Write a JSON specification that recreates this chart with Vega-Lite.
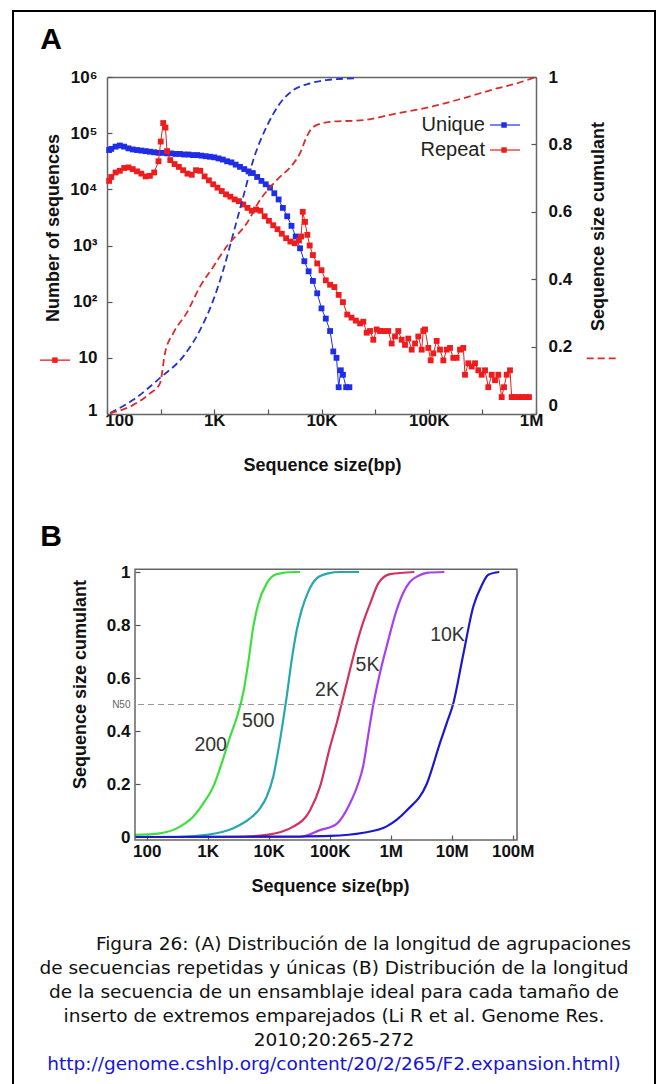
{
  "$schema": "https://vega.github.io/schema/vega-lite/v6.json",
  "width": 642,
  "height": 1093,
  "padding": {"left": 13, "top": 11, "right": 5, "bottom": -20},
  "autosize": {"type": "none"},
  "background": "white",
  "config": {
    "view": {"stroke": "#000", "strokeWidth": 2},
    "axis": {"domain": false, "domainColor": "#666", "domainWidth": 1.5, "grid": false, "tickColor": "#555", "tickWidth": 1.2, "tickSize": -5, "labelFont": "Liberation Sans", "labelFontWeight": "bold", "labelFontSize": 17, "labelColor": "#111", "titleFont": "Liberation Sans", "titleFontWeight": "bold", "titleFontSize": 18, "titleColor": "#111", "labelOverlap": false, "labelFlush": false},
    "text": {"font": "Liberation Sans"}
  },
  "title": {
    "text": ["\u200b\u00a0\u00a0\u00a0\u00a0\u00a0\u00a0\u00a0\u00a0\u00a0\u00a0Figura 26: (A) Distribución de la longitud de agrupaciones", "de secuencias repetidas y únicas (B) Distribución de la longitud", "de la secuencia de un ensamblaje ideal para cada tamaño de", "inserto de extremos emparejados (Li R et al. Genome Res.", "2010;20:265-272"],
    "subtitle": "http://genome.cshlp.org/content/20/2/265/F2.expansion.html)",
    "orient": "bottom", "anchor": "middle", "frame": "group", "offset": -169,
    "font": "DejaVu Sans", "fontSize": 18.5, "fontWeight": "normal", "color": "#111", "lineHeight": 24,
    "subtitleFont": "DejaVu Sans", "subtitleFontSize": 18.5, "subtitleColor": "#1515d6", "subtitlePadding": 5, "subtitleLineHeight": 24
  },
  "datasets": {
    "unique": [
      {"bp":104.7,"n":50120},{"bp":109.6,"n":52480},{"bp":120.2,"n":57540},{"bp":131.8,"n":60260},{"bp":144.5,"n":57540},{"bp":158.5,"n":53700},{"bp":173.8,"n":51290},{"bp":190.5,"n":50120},{"bp":208.9,"n":48980},{"bp":229.1,"n":47860},{"bp":251.2,"n":46770},{"bp":275.4,"n":45710},{"bp":302.0,"n":44670},{"bp":331.1,"n":44670},{"bp":363.1,"n":43650},{"bp":398.1,"n":43650},{"bp":436.5,"n":42660},{"bp":478.6,"n":42660},{"bp":524.8,"n":41690},{"bp":575.4,"n":41690},{"bp":631.0,"n":40740},{"bp":691.8,"n":40740},{"bp":758.6,"n":39810},{"bp":831.8,"n":38900},{"bp":912.0,"n":38020},{"bp":1000,"n":37150},{"bp":1096,"n":35480},{"bp":1202,"n":33880},{"bp":1318,"n":31620},{"bp":1445,"n":30200},{"bp":1585,"n":27540},{"bp":1738,"n":25120},{"bp":1905,"n":22910},{"bp":2089,"n":20890},{"bp":2291,"n":19500},{"bp":2512,"n":16600},{"bp":2754,"n":14130},{"bp":3020,"n":12300},{"bp":3311,"n":10720},{"bp":3631,"n":8511},{"bp":3981,"n":6607},{"bp":4365,"n":4677},{"bp":4786,"n":3311},{"bp":5248,"n":2239},{"bp":5754,"n":1445},{"bp":6310,"n":891},{"bp":6918,"n":525},{"bp":7586,"n":347},{"bp":8318,"n":234},{"bp":9120,"n":141},{"bp":10000,"n":76},{"bp":10965,"n":50},{"bp":12023,"n":30},{"bp":12882,"n":13},{"bp":13804,"n":10},{"bp":14454,"n":3},{"bp":15136,"n":6},{"bp":15849,"n":5},{"bp":16982,"n":3},{"bp":18197,"n":3}
    ],
    "repeat": [
      {"bp":104.7,"n":14125},{"bp":109.6,"n":16600},{"bp":120.2,"n":19950},{"bp":131.8,"n":21380},{"bp":144.5,"n":23990},{"bp":158.5,"n":24550},{"bp":173.8,"n":22910},{"bp":190.5,"n":20890},{"bp":208.9,"n":19050},{"bp":229.1,"n":16980},{"bp":251.2,"n":17380},{"bp":275.4,"n":19950},{"bp":302.0,"n":31620},{"bp":317.0,"n":70800},{"bp":334.2,"n":151400},{"bp":350.8,"n":125900},{"bp":363.1,"n":47860},{"bp":389.0,"n":33110},{"bp":426.6,"n":28180},{"bp":467.7,"n":25120},{"bp":512.9,"n":21880},{"bp":562.3,"n":19050},{"bp":616.6,"n":18200},{"bp":676.1,"n":21880},{"bp":741.3,"n":21380},{"bp":812.8,"n":16980},{"bp":891.3,"n":14450},{"bp":977.2,"n":12300},{"bp":1071.5,"n":10720},{"bp":1174.9,"n":9333},{"bp":1288.2,"n":8128},{"bp":1412.5,"n":7413},{"bp":1548.8,"n":6607},{"bp":1698.2,"n":6166},{"bp":1862.1,"n":5370},{"bp":2041.7,"n":4677},{"bp":2238.7,"n":4169},{"bp":2454.7,"n":4365},{"bp":2691.5,"n":4169},{"bp":2951.2,"n":3311},{"bp":3235.9,"n":2754},{"bp":3548.1,"n":2291},{"bp":3890.5,"n":1950},{"bp":4265.8,"n":1622},{"bp":4677.4,"n":1349},{"bp":5128.6,"n":1175},{"bp":5623.4,"n":1096},{"bp":6166.0,"n":1230},{"bp":6456.5,"n":1445},{"bp":6683.4,"n":3981},{"bp":7014.5,"n":2630},{"bp":7379.0,"n":1549},{"bp":7762.5,"n":1000},{"bp":8317.6,"n":676},{"bp":9120.1,"n":479},{"bp":10000,"n":363},{"bp":10965,"n":240},{"bp":12023,"n":200},{"bp":13183,"n":182},{"bp":14454,"n":132},{"bp":15849,"n":98},{"bp":17378,"n":59},{"bp":19055,"n":52},{"bp":20893,"n":46},{"bp":22909,"n":41},
      {"bp":24547,"n":44},{"bp":26390,"n":28},{"bp":28340,"n":30},{"bp":30410,"n":21},{"bp":32700,"n":32},{"bp":35120,"n":30},{"bp":37700,"n":30},{"bp":41960,"n":30},{"bp":45120,"n":18},{"bp":48450,"n":24},{"bp":52020,"n":30},{"bp":55950,"n":21},{"bp":60050,"n":17},{"bp":64470,"n":22},{"bp":69340,"n":14},{"bp":74440,"n":18},{"bp":79930,"n":24},{"bp":85970,"n":14},{"bp":88970,"n":30},{"bp":92260,"n":32},{"bp":99040,"n":15},{"bp":104270,"n":9},{"bp":110250,"n":12},{"bp":118630,"n":20},{"bp":127330,"n":14},{"bp":136710,"n":9},{"bp":147080,"n":14},{"bp":157830,"n":15},{"bp":169400,"n":10},{"bp":182240,"n":10},{"bp":195600,"n":14},{"bp":209990,"n":15},{"bp":217770,"n":5},{"bp":233770,"n":8},{"bp":251500,"n":7},{"bp":269960,"n":8},{"bp":289730,"n":6},{"bp":311600,"n":5},{"bp":334580,"n":6},{"bp":359200,"n":3},{"bp":386360,"n":5},{"bp":414720,"n":4},{"bp":445210,"n":5},{"bp":478860,"n":2},{"bp":503080,"n":3},{"bp":533240,"n":5},{"bp":572220,"n":6},{"bp":593500,"n":2},{"bp":637180,"n":2},{"bp":686590,"n":2},{"bp":740440,"n":2},{"bp":798500,"n":2},{"bp":860460,"n":2}
    ],
    "cumUnique": [
      {"bp":106.7,"c":0.003},{"bp":175.8,"c":0.042},{"bp":311.9,"c":0.107},{"bp":514.5,"c":0.171},{"bp":736.6,"c":0.249},{"bp":979.5,"c":0.338},{"bp":1213,"c":0.427},{"bp":1507,"c":0.536},{"bp":1866,"c":0.645},{"bp":2313,"c":0.754},{"bp":3084,"c":0.853},{"bp":4102,"c":0.922},{"bp":5458,"c":0.961},{"bp":7812,"c":0.981},{"bp":11190,"c":0.991},{"bp":20510,"c":0.996}
    ],
    "cumRepeat": [
      {"bp":106.7,"c":0.002},{"bp":175.8,"c":0.027},{"bp":251.6,"c":0.061},{"bp":311.9,"c":0.091},{"bp":347.5,"c":0.181},{"bp":415.3,"c":0.24},{"bp":553.6,"c":0.30},{"bp":736.6,"c":0.378},{"bp":979.5,"c":0.437},{"bp":1306,"c":0.497},{"bp":2009,"c":0.566},{"bp":2672,"c":0.635},{"bp":3823,"c":0.694},{"bp":5458,"c":0.743},{"bp":6310,"c":0.774},{"bp":7278,"c":0.823},{"bp":8395,"c":0.852},{"bp":12000,"c":0.867},{"bp":24550,"c":0.872},{"bp":50230,"c":0.892},{"bp":102800,"c":0.911},{"bp":209900,"c":0.937},{"bp":430300,"c":0.966},{"bp":661000,"c":0.981},{"bp":1000000,"c":1.0}
    ],
    "insertCurves": [
      {"insert":"200","bp":64.3,"c":0.008},{"insert":"200","bp":165.2,"c":0.014},{"insert":"200","bp":351.6,"c":0.039},{"insert":"200","bp":580.8,"c":0.077},{"insert":"200","bp":847.2,"c":0.127},{"insert":"200","bp":1236,"c":0.19},{"insert":"200","bp":1698,"c":0.278},{"insert":"200","bp":2323,"c":0.378},{"insert":"200","bp":2985,"c":0.45},{"insert":"200","bp":3837,"c":0.545},{"insert":"200","bp":4634,"c":0.66},{"insert":"200","bp":5598,"c":0.794},{"insert":"200","bp":6761,"c":0.88},{"insert":"200","bp":9268,"c":0.957},{"insert":"200","bp":13520,"c":0.992},{"insert":"200","bp":25290,"c":1.0},{"insert":"200","bp":32580,"c":1.0},
      {"insert":"500","bp":64.3,"c":0.0},{"insert":"500","bp":310.5,"c":0.0},{"insert":"500","bp":963.8,"c":0.008},{"insert":"500","bp":2630,"c":0.033},{"insert":"500","bp":4932,"c":0.07},{"insert":"500","bp":7194,"c":0.108},{"insert":"500","bp":9268,"c":0.152},{"insert":"500","bp":11890,"c":0.228},{"insert":"500","bp":14360,"c":0.328},{"insert":"500","bp":16980,"c":0.43},{"insert":"500","bp":19720,"c":0.53},{"insert":"500","bp":23820,"c":0.668},{"insert":"500","bp":28770,"c":0.78},{"insert":"500","bp":34750,"c":0.857},{"insert":"500","bp":44570,"c":0.926},{"insert":"500","bp":61240,"c":0.976},{"insert":"500","bp":94840,"c":0.995},{"insert":"500","bp":147600,"c":1.0},{"insert":"500","bp":302000,"c":1.0},
      {"insert":"2K","bp":64.3,"c":0.0},{"insert":"2K","bp":2630,"c":0.0},{"insert":"2K","bp":9268,"c":0.008},{"insert":"2K","bp":25290,"c":0.039},{"insert":"2K","bp":47530,"c":0.10},{"insert":"2K","bp":69340,"c":0.19},{"insert":"2K","bp":101200,"c":0.34},{"insert":"2K","bp":130300,"c":0.43},{"insert":"2K","bp":157400,"c":0.505},{"insert":"2K","bp":201800,"c":0.605},{"insert":"2K","bp":260000,"c":0.706},{"insert":"2K","bp":335000,"c":0.794},{"insert":"2K","bp":458100,"c":0.88},{"insert":"2K","bp":626600,"c":0.957},{"insert":"2K","bp":975000,"c":0.992},{"insert":"2K","bp":2438000,"c":1.0},
      {"insert":"5K","bp":64.3,"c":0.0},{"insert":"5K","bp":32580,"c":0.0},{"insert":"5K","bp":69340,"c":0.026},{"insert":"5K","bp":130300,"c":0.05},{"insert":"5K","bp":215300,"c":0.127},{"insert":"5K","bp":291100,"c":0.2},{"insert":"5K","bp":355600,"c":0.27},{"insert":"5K","bp":424600,"c":0.38},{"insert":"5K","bp":518800,"c":0.5},{"insert":"5K","bp":668300,"c":0.62},{"insert":"5K","bp":859600,"c":0.72},{"insert":"5K","bp":1253000,"c":0.857},{"insert":"5K","bp":1592000,"c":0.92},{"insert":"5K","bp":2070000,"c":0.963},{"insert":"5K","bp":2805000,"c":0.985},{"insert":"5K","bp":3890000,"c":0.997},{"insert":"5K","bp":7568000,"c":1.0},
      {"insert":"10K","bp":64.3,"c":0.0},{"insert":"10K","bp":32580,"c":0.002},{"insert":"10K","bp":101200,"c":0.004},{"insert":"10K","bp":355600,"c":0.016},{"insert":"10K","bp":859600,"c":0.04},{"insert":"10K","bp":1828000,"c":0.10},{"insert":"10K","bp":3890000,"c":0.20},{"insert":"10K","bp":6427000,"c":0.355},{"insert":"10K","bp":8279000,"c":0.43},{"insert":"10K","bp":10500000,"c":0.5},{"insert":"10K","bp":15490000,"c":0.69},{"insert":"10K","bp":22590000,"c":0.87},{"insert":"10K","bp":31050000,"c":0.95},{"insert":"10K","bp":39810000,"c":0.99},{"insert":"10K","bp":60260000,"c":1.0}
    ],
    "insertLabels": [
      {"label":"200","bp":1119,"c":0.347},{"label":"500","bp":6761,"c":0.439},{"label":"2K","bp":90360,"c":0.555},{"label":"5K","bp":416900,"c":0.649},{"label":"10K","bp":8531000,"c":0.762}
    ]
  },
  "layer": [
    {
      "layer": [
        {
          "data": {"name": "unique"},
          "mark": {"type": "line", "color": "#1f2ee6", "strokeWidth": 1, "point": {"shape": "square", "size": 34, "filled": true, "color": "#1f2ee6", "opacity": 1}},
          "encoding": {
            "x": {"field": "bp", "type": "quantitative", "scale": {"type": "log", "domain": [100, 1000000], "range": [94, 523], "nice": false},
              "axis": {"orient": "bottom", "offset": -690, "domain": true, "values": [100, 316.23, 1000, 3162.3, 10000, 31623, 100000, 316228, 1000000], "labelExpr": "datum.value == 100 ? '100' : datum.value == 1000 ? '1K' : datum.value == 10000 ? '10K' : datum.value == 100000 ? '100K' : datum.value == 1000000 ? '1M' : ''", "labelPadding": 3, "labelOffset": {"condition": [{"test": "datum.value == 100", "value": 12}, {"test": "datum.value == 1000000", "value": -5}], "value": 0}, "title": "Sequence size(bp)", "titleX": 309, "titleY": 51, "titleBaseline": "middle"}},
            "y": {"field": "n", "type": "quantitative", "scale": {"type": "log", "domain": [1, 1000000], "range": [403, 66], "nice": false},
              "axis": {"orient": "left", "offset": -94, "domain": true, "values": [1, 10, 100, 1000, 10000, 100000, 1000000], "labelExpr": "datum.value >= 1000000 ? '10⁶' : datum.value >= 100000 ? '10⁵' : datum.value >= 10000 ? '10⁴' : datum.value >= 1000 ? '10³' : datum.value >= 100 ? '10²' : datum.value >= 10 ? '10' : '1'", "labelPadding": 15, "labelOffset": {"condition": {"test": "datum.value == 1", "value": -4}, "value": 0}, "title": "Number of sequences", "titleX": -54, "titleY": 216.5, "titleBaseline": "middle", "titleAngle": 270}}
          }
        },
        {
          "data": {"name": "repeat"},
          "mark": {"type": "line", "color": "#ee1c1c", "strokeWidth": 1, "point": {"shape": "square", "size": 34, "filled": true, "color": "#ee1c1c", "opacity": 1}},
          "encoding": {
            "x": {"field": "bp", "type": "quantitative"},
            "y": {"field": "n", "type": "quantitative"}
          }
        },
        {
          "data": {"values": [{"label": "Unique", "n": 139700}, {"label": "Repeat", "n": 50120}]},
          "mark": {"type": "text", "align": "right", "baseline": "middle", "fontSize": 20, "color": "#222"},
          "encoding": {
            "x": {"datum": 334600, "type": "quantitative"},
            "y": {"field": "n", "type": "quantitative"},
            "text": {"field": "label"}
          }
        },
        {
          "data": {"values": [{"label": "Unique", "n": 139700}, {"label": "Repeat", "n": 50120}]},
          "mark": {"type": "rule", "strokeWidth": 1.2},
          "encoding": {
            "x": {"datum": 372400, "type": "quantitative"},
            "x2": {"datum": 709600},
            "y": {"field": "n", "type": "quantitative"},
            "color": {"field": "label", "type": "nominal", "scale": {"domain": ["Unique", "Repeat"], "range": ["#1f2ee6", "#ee1c1c"]}, "legend": null}
          }
        },
        {
          "data": {"values": [{"label": "Unique", "n": 139700}, {"label": "Repeat", "n": 50120}]},
          "mark": {"type": "point", "shape": "square", "filled": true, "size": 30, "opacity": 1},
          "encoding": {
            "x": {"datum": 503500, "type": "quantitative"},
            "y": {"field": "n", "type": "quantitative"},
            "color": {"field": "label", "type": "nominal", "legend": null}
          }
        },
        {
          "data": {"values": [{"n": 9.1}]},
          "mark": {"type": "rule", "strokeWidth": 1.3, "color": "#ee1c1c"},
          "encoding": {
            "x": {"datum": 23.7, "type": "quantitative"},
            "x2": {"datum": 45.2},
            "y": {"field": "n", "type": "quantitative"}
          }
        },
        {
          "data": {"values": [{"n": 9.1}]},
          "mark": {"type": "point", "shape": "square", "filled": true, "size": 30, "opacity": 1, "color": "#ee1c1c"},
          "encoding": {
            "x": {"datum": 32.7, "type": "quantitative"},
            "y": {"field": "n", "type": "quantitative"}
          }
        },
        {
          "data": {"values": [{"label": "A", "n": 4550000}]},
          "mark": {"type": "text", "align": "center", "baseline": "middle", "fontSize": 30, "fontWeight": "bold", "color": "#000"},
          "encoding": {
            "x": {"datum": 30.1, "type": "quantitative"},
            "y": {"field": "n", "type": "quantitative"},
            "text": {"field": "label"}
          }
        }
      ]
    },
    {
      "layer": [
        {
          "data": {"name": "cumUnique"},
          "mark": {"type": "line", "color": "#2433d0", "strokeWidth": 1.8, "strokeDash": [7, 4], "interpolate": "monotone"},
          "encoding": {
            "x": {"field": "bp", "type": "quantitative", "scale": {"type": "log", "domain": [100, 1000000], "range": [94, 523], "nice": false},
              "axis": {"orient": "top", "offset": -66, "domain": true, "labels": false, "ticks": false, "title": null}},
            "y": {"field": "c", "type": "quantitative", "scale": {"type": "linear", "domain": [0, 1], "range": [403, 66], "nice": false, "zero": false},
              "axis": {"orient": "right", "offset": -119, "domain": true, "values": [0, 0.2, 0.4, 0.6, 0.8, 1], "labelExpr": "toString(datum.value)", "labelPadding": 17, "labelOffset": {"condition": {"test": "datum.value == 0", "value": -9}, "value": 0}, "title": "Sequence size cumulant", "titleX": 62, "titleY": 215, "titleBaseline": "middle", "titleAngle": 270}}
          }
        },
        {
          "data": {"name": "cumRepeat"},
          "mark": {"type": "line", "color": "#dd2a2a", "strokeWidth": 1.8, "strokeDash": [7, 4], "interpolate": "monotone"},
          "encoding": {
            "x": {"field": "bp", "type": "quantitative"},
            "y": {"field": "c", "type": "quantitative"}
          }
        },
        {
          "data": {"values": [{"c": 0.165}]},
          "mark": {"type": "rule", "strokeWidth": 1.8, "strokeDash": [7, 4], "color": "#dd2a2a"},
          "encoding": {
            "x": {"datum": 2970000, "type": "quantitative"},
            "x2": {"datum": 5660000},
            "y": {"field": "c", "type": "quantitative"}
          }
        }
      ]
    },
    {
      "layer": [
        {
          "data": {"name": "insertCurves"},
          "mark": {"type": "line", "strokeWidth": 2.2, "interpolate": "monotone"},
          "encoding": {
            "x": {"field": "bp", "type": "quantitative", "scale": {"type": "log", "domain": [64.3, 117500000], "range": [122, 504], "nice": false},
              "axis": {"orient": "bottom", "offset": -264, "values": [100, 1000, 10000, 100000, 1000000, 10000000, 100000000], "labelExpr": "datum.value == 100 ? '100' : datum.value == 1000 ? '1K' : datum.value == 10000 ? '10K' : datum.value == 100000 ? '100K' : datum.value == 1000000 ? '1M' : datum.value == 10000000 ? '10M' : '100M'", "labelPadding": 8, "title": "Sequence size(bp)", "titleX": 317, "titleY": 46, "titleBaseline": "middle"}},
            "y": {"field": "c", "type": "quantitative", "scale": {"type": "linear", "domain": [-0.0113, 1.0102], "range": [829, 558.3], "nice": false, "zero": false},
              "axis": {"orient": "left", "offset": -122, "values": [0, 0.2, 0.4, 0.5, 0.6, 0.8, 1], "labelExpr": "datum.value == 0.5 ? 'N50' : toString(datum.value)", "labelPadding": 10,
                "labelFontSize": {"condition": {"test": "datum.value == 0.5", "value": 10}, "value": 17},
                "labelFontWeight": {"condition": {"test": "datum.value == 0.5", "value": "normal"}, "value": "bold"},
                "labelColor": {"condition": {"test": "datum.value == 0.5", "value": "#666"}, "value": "#111"},
                "tickOpacity": {"condition": {"test": "datum.value == 0.5", "value": 0}, "value": 1},
                "title": "Sequence size cumulant", "titleX": -55, "titleY": 673, "titleBaseline": "middle", "titleAngle": 270}},
            "color": {"field": "insert", "type": "nominal", "scale": {"domain": ["200", "500", "2K", "5K", "10K"], "range": ["#3ee03e", "#27a8ad", "#d2325c", "#a83ff0", "#1a1acc"]}, "legend": null}
          }
        },
        {
          "data": {"values": [{"c0": -0.0113, "c1": 1.0102}]},
          "mark": {"type": "rect", "fill": "transparent", "stroke": "#666", "strokeWidth": 1.5},
          "encoding": {
            "x": {"datum": 64.3, "type": "quantitative"},
            "x2": {"datum": 117500000},
            "y": {"field": "c0", "type": "quantitative"},
            "y2": {"field": "c1"}
          }
        },
        {
          "data": {"values": [{"c": 0.5}]},
          "mark": {"type": "rule", "strokeWidth": 1.2, "strokeDash": [6, 4], "color": "#999"},
          "encoding": {
            "x": {"datum": 72, "type": "quantitative"},
            "x2": {"datum": 117500000},
            "y": {"field": "c", "type": "quantitative"}
          }
        },
        {
          "data": {"name": "insertLabels"},
          "mark": {"type": "text", "align": "center", "baseline": "middle", "fontSize": 19.5, "color": "#333"},
          "encoding": {
            "x": {"field": "bp", "type": "quantitative"},
            "y": {"field": "c", "type": "quantitative"},
            "text": {"field": "label"}
          }
        },
        {
          "data": {"values": [{"label": "B", "c": 1.132}]},
          "mark": {"type": "text", "align": "center", "baseline": "middle", "fontSize": 30, "fontWeight": "bold", "color": "#000"},
          "encoding": {
            "x": {"datum": 2.7, "type": "quantitative"},
            "y": {"field": "c", "type": "quantitative"},
            "text": {"field": "label"}
          }
        }
      ]
    }
  ],
  "resolve": {"scale": {"x": "independent", "y": "independent", "color": "independent"}}
}
